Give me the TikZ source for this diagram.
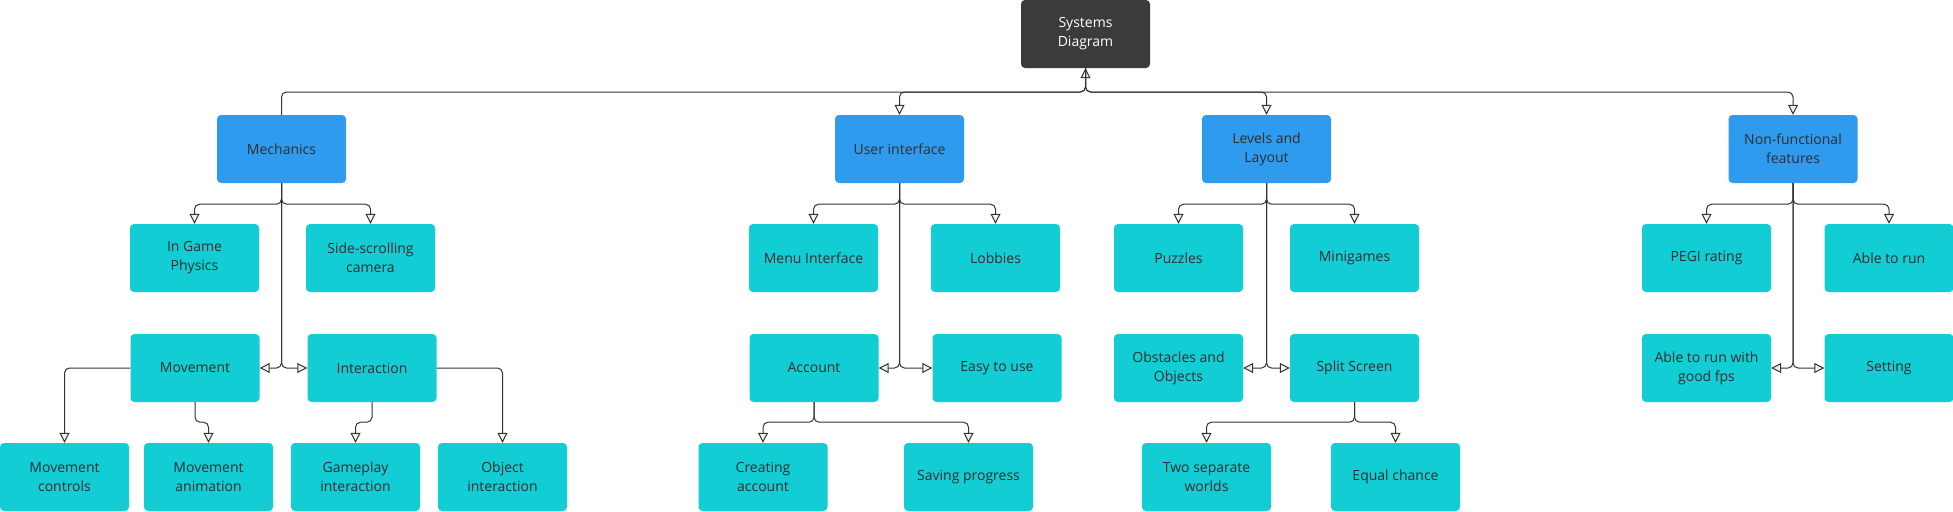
\documentclass[tikz,border=0pt]{standalone}
\usepackage{fontspec}
\setmainfont{Open Sans}
\usetikzlibrary{arrows.meta}
\definecolor{rootc}{HTML}{3B3B3B}
\definecolor{bluec}{HTML}{2F9BEF}
\definecolor{tealc}{HTML}{13CDD4}
\definecolor{linec}{HTML}{333333}
\definecolor{txtc}{HTML}{2E2E2E}
\begin{document}
\begin{tikzpicture}[x=1pt,y=-1pt,
  box/.style={rectangle, rounded corners=4pt, minimum width=129pt, minimum height=68pt, align=center, inner sep=0pt, font=\fontsize{14}{19}\selectfont, text=txtc},
  rootbox/.style={box, fill=rootc, text=white},
  lvlbox/.style={box, fill=bluec},
  leafbox/.style={box, fill=tealc},
  conn/.style={draw=linec, line width=1pt, rounded corners=5pt, -{Triangle[length=10pt,width=10pt,fill=black!6]}},
]
\useasboundingbox (0,0) rectangle (1953,511);
% root
\node[rootbox] (root) at (1085.5,34) {Systems\\Diagram};
\coordinate (rb) at (1085.5,92);
% level 1
\node[lvlbox] (mech) at (281.5,149) {Mechanics};
\node[lvlbox] (ui) at (899.5,149) {User interface};
\node[lvlbox] (lvl) at (1266.5,149) {Levels and\\Layout};
\node[lvlbox] (nf) at (1793,149) {Non-functional\\features};
% row B
\node[leafbox] (igp) at (194.5,258) {In Game\\Physics};
\node[leafbox] (ssc) at (370.5,258) {Side-scrolling\\camera};
\node[leafbox] (menu) at (813.5,258) {Menu Interface};
\node[leafbox] (lob) at (995.5,258) {Lobbies};
\node[leafbox] (puz) at (1178.5,258) {Puzzles};
\node[leafbox] (mini) at (1354.5,258) {Minigames};
\node[leafbox] (pegi) at (1706.5,258) {PEGI rating};
\node[leafbox] (atr) at (1889,258) {Able to run};
% row C
\node[leafbox] (mov) at (195,368) {Movement};
\node[leafbox] (inter) at (372,368) {Interaction};
\node[leafbox] (acc) at (814,368) {Account};
\node[leafbox] (easy) at (997,368) {Easy to use};
\node[leafbox] (obs) at (1178.5,368) {Obstacles and\\Objects};
\node[leafbox] (split) at (1354.5,368) {Split Screen};
\node[leafbox] (fps) at (1706.5,368) {Able to run with\\good fps};
\node[leafbox] (set) at (1889,368) {Setting};
% row D
\node[leafbox] (mc) at (64.5,477) {Movement\\controls};
\node[leafbox] (ma) at (208.5,477) {Movement\\animation};
\node[leafbox] (gi) at (355.5,477) {Gameplay\\interaction};
\node[leafbox] (oi) at (502.5,477) {Object\\interaction};
\node[leafbox] (ca) at (763,477) {Creating\\account};
\node[leafbox] (sp) at (968.5,477) {Saving progress};
\node[leafbox] (tsw) at (1206.5,477) {Two separate\\worlds};
\node[leafbox] (eq) at (1395.5,477) {Equal chance};
% root connectors
\draw[conn] (mech.north) |- (rb) -- (root.south);
\foreach \c in {ui,lvl,nf} \draw[conn] (root.south) -- (rb) -| (\c.north);
% mechanics
\foreach \c in {igp,ssc} \draw[conn] (mech.south) -- ++(0,21) -| (\c.north);
\draw[conn] (mech.south) |- (mov.east);
\draw[conn] (mech.south) |- (inter.west);
\draw[conn] (mov.west) -| (mc.north);
\draw[conn] (mov.south) -- ++(0,20) -| (ma.north);
\draw[conn] (inter.south) -- ++(0,20) -| (gi.north);
\draw[conn] (inter.east) -| (oi.north);
% user interface
\foreach \c in {menu,lob} \draw[conn] (ui.south) -- ++(0,21) -| (\c.north);
\draw[conn] (ui.south) |- (acc.east);
\draw[conn] (ui.south) |- (easy.west);
\foreach \c in {ca,sp} \draw[conn] (acc.south) -- ++(0,20) -| (\c.north);
% levels
\foreach \c in {puz,mini} \draw[conn] (lvl.south) -- ++(0,21) -| (\c.north);
\draw[conn] (lvl.south) |- (obs.east);
\draw[conn] (lvl.south) |- (split.west);
\foreach \c in {tsw,eq} \draw[conn] (split.south) -- ++(0,20) -| (\c.north);
% non-functional
\foreach \c in {pegi,atr} \draw[conn] (nf.south) -- ++(0,21) -| (\c.north);
\draw[conn] (nf.south) |- (fps.east);
\draw[conn] (nf.south) |- (set.west);
\end{tikzpicture}
\end{document}
